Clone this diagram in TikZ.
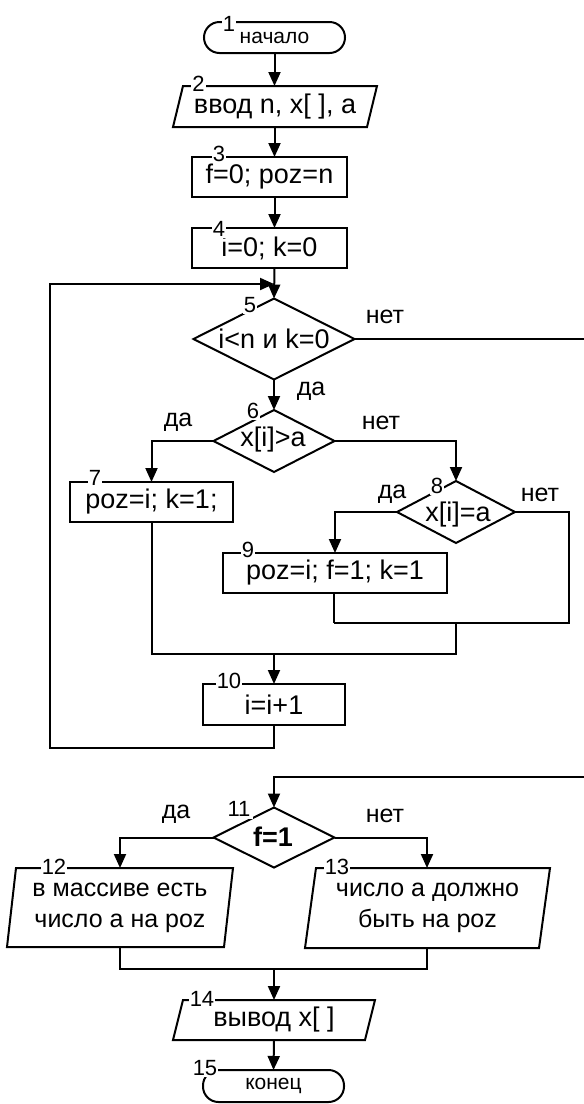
\documentclass[tikz,border=0pt]{standalone}
\usepackage{fontspec}
\setmainfont{Liberation Sans}
\usetikzlibrary{arrows.meta,shapes.geometric,calc}
\newcommand\drawpara[2]{\draw ($(#1.south west)+(-#2,0)$) -- ($(#1.north west)+(#2,0)$) -- ($(#1.north east)+(#2,0)$) -- ($(#1.south east)+(-#2,0)$) -- cycle;}
\begin{document}
\begin{tikzpicture}[x=1pt,y=-1pt,line width=2pt,
  arr/.style={-{Triangle[length=14pt,width=12pt]}},
  box/.style={draw,rectangle,inner sep=0pt,outer sep=0pt,font=\fontsize{27}{30}\selectfont},
  term/.style={draw,rectangle,rounded corners=15.5pt,inner sep=0pt,outer sep=0pt,font=\fontsize{21}{24}\selectfont},
  pbox/.style={rectangle,inner sep=0pt,outer sep=0pt,align=center,font=\fontsize{27}{31}\selectfont},
  dia/.style={draw,diamond,inner sep=0pt,outer sep=0pt},
  txt/.style={inner sep=0pt,font=\fontsize{27}{30}\selectfont},
  yn/.style={inner sep=0pt,font=\fontsize{25}{30}\selectfont},
  num/.style={fill=white,inner sep=1.2pt,font=\fontsize{22}{24}\selectfont}]
\useasboundingbox (0,0) rectangle (584,1104);
% blocks
\node[term,minimum width=141,minimum height=31] (t1) at (274.5,37.5) {\raisebox{-3pt}{начало}};
\node[pbox,minimum width=194,minimum height=41] (p2) at (275,106.5) {ввод n, x[ ], a};
\drawpara{p2}{5}
\node[box,minimum width=155,minimum height=40] (r3) at (269.5,177) {f=0; poz=n};
\node[box,minimum width=155,minimum height=40] (r4) at (269.5,248) {i=0; k=0};
\node[dia,minimum width=161,minimum height=81] (d5) at (274,339) {};
\node[txt] (d5t) at (274,339) {i<n и k=0};
\node[dia,minimum width=121,minimum height=62] (d6) at (274,441) {};
\node[txt] (d6t) at (273,440) {x[i]>a};
\node[box,minimum width=163,minimum height=40] (r7) at (151.5,502) {poz=i; k=1;};
\node[dia,minimum width=118,minimum height=62] (d8) at (456,512) {};
\node[txt] (d8t) at (458,515) {x[i]=a};
\node[box,minimum width=224,minimum height=40] (r9) at (335,573) {poz=i; f=1; k=1};
\node[box,minimum width=142,minimum height=41] (r10) at (274,704.5) {i=i+1};
\node[dia,minimum width=121,minimum height=60] (d11) at (274,837.5) {};
\node[txt] (d11t) at (273,837) {\bfseries f=1};
\node[pbox,minimum width=217,minimum height=79,font=\fontsize{25}{31}\selectfont] (p12) at (120,907.5) {в массиве есть\\число а на poz};
\drawpara{p12}{4.5}
\node[pbox,minimum width=234,minimum height=80,font=\fontsize{25}{31}\selectfont] (p13) at (427.5,908) {число а должно\\быть на poz};
\drawpara{p13}{5.5}
\node[pbox,minimum width=192,minimum height=40] (p14) at (274,1020) {вывод x[ ]};
\drawpara{p14}{5}
\node[term,minimum width=141,minimum height=32] (t15) at (273.5,1086) {\raisebox{-3pt}{конец}};
% coordinates
\coordinate (j5) at (274,284);
\coordinate (lb) at (50,748);
\coordinate (rc) at (586,777);
\coordinate (m8r) at (569,623);
\coordinate (m8l) at (334,623);
\coordinate (m8c) at (456,623);
\coordinate (m7) at (456,654);
\coordinate (m12) at (427,969);
% connectors
\draw[arr] (t1.south) -- (t1.south |- p2.north);
\draw[arr] (t1.south |- p2.south) -- (t1.south |- r3.north);
\draw[arr] (t1.south |- r3.south) -- (t1.south |- r4.north);
\draw[arr] (t1.south |- r4.south) -- (d5.north);
\draw[arr] (r10.south) |- (lb) |- (j5);
\draw[arr] (d5.south) -- (d6.north);
\draw[arr] (d5.east) -| (rc) -| (d11.north);
\draw[arr] (d6.west) -| (r7.north);
\draw[arr] (d6.east) -| (d8.north);
\draw[arr] (d8.west) -| (r9.north);
\draw (d8.east) -| (m8r) -- (m8l);
\draw (r9.south -| m8l) -- (m8l);
\draw (r7.south) |- (m7) -- (m8c);
\draw[arr] (r10.north |- m7) -- (r10.north);
\draw[arr] (d11.west) -| (p12.north);
\draw[arr] (d11.east) -| (p13.north -| m12);
\draw (p12.south) |- (m12) -- (p13.south -| m12);
\draw[arr] (p14.north |- m12) -- (p14.north);
\draw[arr] (p14.south) -- (t15.north);
% yes/no labels
\node[yn] (l5n) at (385,317) {нет};
\node[yn] (l5y) at (311,391) {да};
\node[yn] (l6y) at (178,422) {да};
\node[yn] (l6n) at (381,423) {нет};
\node[yn] (l8y) at (392,494) {да};
\node[yn] (l8n) at (540,495) {нет};
\node[yn] (l11y) at (176,814) {да};
\node[yn] (l11n) at (385,816) {нет};
% block numbers
\node[num] (n1) at (229,24) {1};
\node[num] (n2) at (198.5,84) {2};
\node[num] (n3) at (219,154) {3};
\node[num] (n4) at (219,229) {4};
\node[num] (n5) at (250,305) {5};
\node[num] (n6) at (253,411) {6};
\node[num] (n7) at (95,478) {7};
\node[num] (n8) at (437,486) {8};
\node[num] (n9) at (248,550) {9};
\node[num] (n10) at (229,681) {10};
\node[num,inner sep=2.5pt] (n11) at (239,809) {11};
\node[num] (n12) at (54,867) {12};
\node[num] (n13) at (337,867) {13};
\node[num] (n14) at (202,999) {14};
\node[num] (n15) at (205,1068) {15};
\end{tikzpicture}
\end{document}
